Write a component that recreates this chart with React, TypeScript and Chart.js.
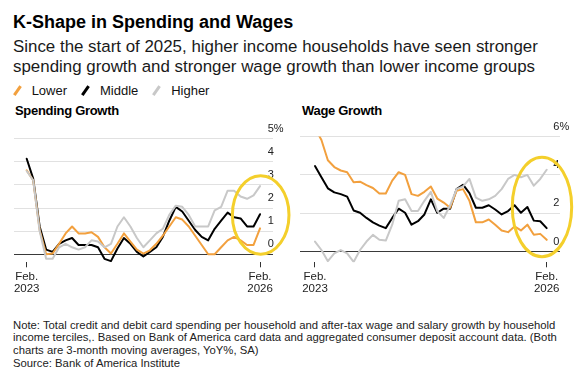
import React, { useEffect, useRef } from "react";
import { Chart, registerables } from "chart.js";

Chart.register(...registerables);

// ---- Data (monthly, Feb 2023 .. Feb 2026) ----
const months = [
  "Feb 2023", "Mar 2023", "Apr 2023", "May 2023", "Jun 2023", "Jul 2023", "Aug 2023", "Sep 2023", "Oct 2023", "Nov 2023", "Dec 2023",
  "Jan 2024", "Feb 2024", "Mar 2024", "Apr 2024", "May 2024", "Jun 2024", "Jul 2024", "Aug 2024", "Sep 2024", "Oct 2024", "Nov 2024", "Dec 2024",
  "Jan 2025", "Feb 2025", "Mar 2025", "Apr 2025", "May 2025", "Jun 2025", "Jul 2025", "Aug 2025", "Sep 2025", "Oct 2025", "Nov 2025", "Dec 2025",
  "Jan 2026", "Feb 2026",
];

const spendingLower = [3.63, 3.2, 1.05, 0.0, 0.03, 0.45, 0.9, 1.2, 0.9, 0.9, 0.95, 0.75, 0.3, 0.03, 0.45, 0.9, 0.55, 0.2, 0.03, 0.17, 0.45, 0.8, 1.2, 1.6, 1.5, 1.2, 0.8, 0.4, 0.0, 0.0, 0.3, 0.6, 0.75, 0.6, 0.4, 0.4, 1.12];
const spendingMiddle = [4.13, 3.27, 1.2, 0.2, 0.1, 0.45, 0.6, 0.7, 0.4, 0.4, 0.4, 0.3, -0.2, -0.3, 0.25, 0.7, 0.45, 0.1, -0.1, 0.1, 0.3, 0.75, 1.45, 2.05, 1.85, 1.45, 1.05, 0.75, 0.6, 1.1, 1.45, 1.8, 1.6, 1.55, 1.2, 1.2, 1.73];
const spendingHigher = [3.6, 3.2, 1.0, -0.2, -0.2, 0.3, 0.45, 0.3, 0.2, 0.3, 0.6, 0.55, 0.3, 0.45, 1.2, 1.6, 1.2, 0.7, 0.3, 0.6, 0.9, 1.1, 1.7, 2.1, 2.05, 1.7, 1.2, 1.2, 1.2, 1.9, 2.05, 2.75, 2.75, 2.5, 2.4, 2.55, 2.95];

const wageLower = [6.44, 5.82, 4.76, 4.41, 4.23, 4.14, 3.62, 3.65, 3.47, 3.32, 3.03, 3.03, 3.7, 4.14, 4.0, 3.0, 2.91, 3.12, 3.4, 2.77, 2.56, 2.29, 3.17, 3.26, 2.65, 1.53, 1.53, 1.68, 1.41, 1.11, 1.02, 1.32, 1.11, 1.41, 0.88, 0.93, 0.62];
const wageMiddle = [4.46, 3.88, 3.3, 3.09, 3.0, 2.87, 2.15, 2.03, 1.76, 1.53, 1.36, 1.23, 1.76, 2.24, 2.03, 1.41, 1.59, 1.94, 2.73, 2.03, 2.24, 2.24, 3.26, 3.49, 3.05, 2.29, 2.29, 2.42, 2.2, 1.94, 2.12, 2.42, 2.03, 2.33, 1.62, 1.59, 1.23];
const wageHigher = [0.53, 0.09, -0.49, -0.09, 0.09, -0.09, -0.53, 0.09, 0.53, 0.88, 0.62, 0.58, 1.41, 2.65, 2.73, 2.12, 2.12, 2.65, 3.12, 2.12, 1.76, 2.42, 3.26, 3.4, 3.79, 2.82, 2.65, 2.73, 2.91, 3.26, 3.79, 4.0, 3.88, 4.0, 3.44, 3.79, 4.27];

const xTickPositions = [0, 36];
const xTickLabels = [["Feb.", "2023"], ["Feb.", "2026"]];
const spendingYTicks = [0, 1, 2, 3, 4, 5];
const wageYTicks = [0, 2, 4, 6];

const seriesNames = ["Lower", "Middle", "Higher"];
const COLORS = { Lower: "#F2A03E", Middle: "#000000", Higher: "#C8C8C8" };
const YELLOW = "#F4CF2B";
const FONT = "'Liberation Sans', Arial, Helvetica, sans-serif";

const ellipsePlugin = {
  id: "ellipse",
  afterDraw(chart: any, _args: any, opts: any) {
    if (!opts || opts.cx === undefined) return;
    const { ctx, scales } = chart;
    const cx = scales.x.getPixelForValue(opts.cx);
    const cy = scales.y.getPixelForValue(opts.cy);
    ctx.save();
    ctx.beginPath();
    ctx.ellipse(cx, cy, opts.rx, opts.ry, 0, 0, Math.PI * 2);
    ctx.strokeStyle = YELLOW;
    ctx.lineWidth = 3;
    ctx.stroke();
    ctx.restore();
  },
};

type PanelProps = {
  width: number;
  height: number;
  lower: number[];
  middle: number[];
  higher: number[];
  yTicks: number[];
  yMin: number;
  xMin: number;
  xMax: number;
  padLeft: number;
  padTop: number;
  axisWidth: number;
  axisHeight: number;
  labelPad: number;
  ellipse: { cx: number; cy: number; rx: number; ry: number };
};

function Panel(p: PanelProps) {
  const ref = useRef<HTMLCanvasElement | null>(null);
  useEffect(() => {
    if (!ref.current) return;
    const mk = (vals: number[]) => vals.map((v, i) => ({ x: i, y: v }));
    const ds = (name: string, vals: number[]) => ({
      label: name,
      data: mk(vals),
      borderColor: (COLORS as any)[name],
      backgroundColor: (COLORS as any)[name],
      borderWidth: 2,
      pointRadius: 0,
      tension: 0,
      borderJoinStyle: "round" as const,
      borderCapStyle: "round" as const,
    });
    const yMax = p.yTicks[p.yTicks.length - 1];
    const chart = new Chart(ref.current, {
      type: "line",
      data: {
        labels: months,
        datasets: [ds("Higher", p.higher), ds("Lower", p.lower), ds("Middle", p.middle)],
      },
      plugins: [ellipsePlugin],
      options: {
        animation: false,
        responsive: false,
        events: [],
        layout: { padding: { left: p.padLeft, top: p.padTop, right: 0, bottom: 0 } },
        plugins: {
          legend: { display: false },
          tooltip: { enabled: false },
          ellipse: p.ellipse,
        } as any,
        scales: {
          x: {
            type: "linear",
            min: p.xMin,
            max: p.xMax,
            border: { display: false },
            grid: {
              drawOnChartArea: false,
              drawTicks: true,
              tickLength: 5,
              tickColor: "#333",
              lineWidth: 1,
            },
            afterBuildTicks: (scale: any) => {
              scale.ticks = xTickPositions.map((v) => ({ value: v }));
            },
            afterFit: (scale: any) => {
              scale.height = p.axisHeight;
            },
            ticks: {
              autoSkip: false,
              maxRotation: 0,
              padding: 3,
              color: "#222",
              font: { family: FONT, size: 11.5, lineHeight: 1.1 },
              callback: (v: any) => {
                const i = xTickPositions.indexOf(Number(v));
                return i >= 0 ? xTickLabels[i] : "";
              },
            },
          },
          y: {
            type: "linear",
            position: "right",
            min: p.yMin,
            max: yMax,
            border: { display: false },
            grid: {
              drawTicks: false,
              lineWidth: 1,
              color: (c: any) => (c.tick && c.tick.value === 0 ? "#3a3a3a" : "#E1E1E1"),
            },
            afterBuildTicks: (scale: any) => {
              scale.ticks = p.yTicks.map((v) => ({ value: v }));
            },
            afterFit: (scale: any) => {
              scale.width = p.axisWidth;
            },
            ticks: {
              mirror: true,
              crossAlign: "far",
              padding: p.labelPad,
              labelOffset: -10,
              color: "#222",
              font: { family: FONT, size: 11 },
              callback: (v: any) => (Number(v) === yMax ? `${v}%` : `${v}`),
            },
          },
        },
      },
    });
    return () => chart.destroy();
  }, []);
  return <canvas ref={ref} width={p.width} height={p.height} style={{ width: p.width, height: p.height, display: "block" }} />;
}

function Slash({ color }: { color: string }) {
  return (
    <span
      style={{
        display: "inline-block",
        width: 2.5,
        height: 11,
        background: color,
        transform: "rotate(35deg)",
        marginRight: 13.4,
        verticalAlign: -1,
      }}
    />
  );
}

export default function App() {
  const abs = (left: number, top: number, extra: React.CSSProperties = {}): React.CSSProperties => ({
    position: "absolute",
    left,
    top,
    whiteSpace: "nowrap",
    ...extra,
  });
  return (
    <div style={{ position: "absolute", left: 0, top: 0, width: 585, height: 374, background: "#fff", fontFamily: FONT, color: "#000", overflow: "hidden" }}>
      <div style={abs(13, 11, { fontSize: 18, lineHeight: "22px", fontWeight: 700 })}>K-Shape in Spending and Wages</div>
      <div style={abs(13, 37.4, { fontSize: 16.9, lineHeight: "19.5px", color: "#1a1a1a" })}>
        <div>Since the start of 2025, higher income households have seen stronger</div>
        <div>spending growth and stronger wage growth than lower income groups</div>
      </div>
      <div style={abs(15.75, 82.5, { fontSize: 13, lineHeight: "16px", color: "#111" })}>
        {seriesNames.map((n) => (
          <span key={n} style={{ marginRight: 17 }}>
            <Slash color={(COLORS as any)[n]} />
            {n}
          </span>
        ))}
      </div>
      <div style={abs(15, 103.2, { fontSize: 13, lineHeight: "16px", fontWeight: 700, letterSpacing: -0.3 })}>Spending Growth</div>
      <div style={abs(302, 103.2, { fontSize: 13, lineHeight: "16px", fontWeight: 700, letterSpacing: -0.3 })}>Wage Growth</div>

      <div style={abs(0, 120)}>
        <Panel
          width={292}
          height={190}
          lower={spendingLower}
          middle={spendingMiddle}
          higher={spendingHigher}
          yTicks={spendingYTicks}
          yMin={-0.35}
          xMin={-1.96}
          xMax={38.0}
          padLeft={14}
          padTop={18.7}
          axisWidth={19}
          axisHeight={47.7}
          labelPad={10.6}
          ellipse={{ cx: 36.1, cy: 1.7, rx: 28.3, ry: 39.2 }}
        />
      </div>
      <div style={abs(292, 120)}>
        <Panel
          width={293}
          height={190}
          lower={wageLower}
          middle={wageMiddle}
          higher={wageHigher}
          yTicks={wageYTicks}
          yMin={-0.55}
          xMin={-2.33}
          xMax={38.07}
          padLeft={8}
          padTop={16.5}
          axisWidth={25}
          axisHeight={47.7}
          labelPad={9.2}
          ellipse={{ cx: 35.27, cy: 2.33, rx: 29.7, ry: 49.7 }}
        />
      </div>

      <div style={abs(13, 318.7, { fontSize: 11.3, lineHeight: "12.8px", color: "#222" })}>
        <div>Note: Total credit and debit card spending per household and after-tax wage and salary growth by household</div>
        <div>income terciles,. Based on Bank of America card data and aggregated consumer deposit account data. (Both</div>
        <div>charts are 3-month moving averages, YoY%, SA)</div>
        <div>Source: Bank of America Institute</div>
      </div>
    </div>
  );
}
